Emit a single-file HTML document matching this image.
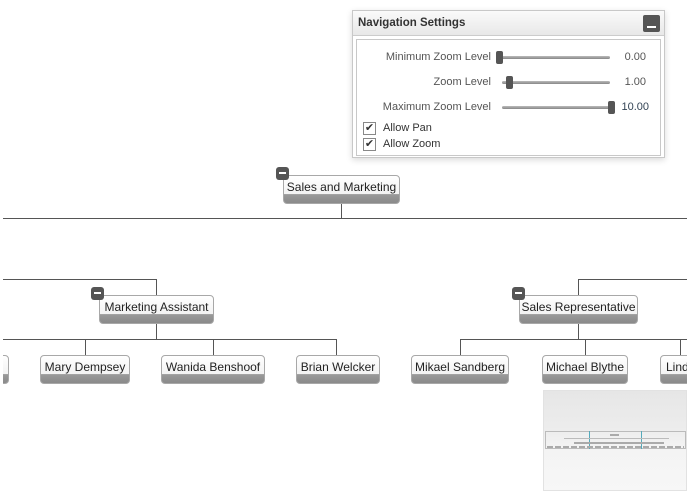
<!DOCTYPE html>
<html><head><meta charset="utf-8"><style>
html,body{margin:0;padding:0;background:#fff;}
body{width:690px;height:491px;position:relative;overflow:hidden;font-family:"Liberation Sans",sans-serif;}
#clip{position:absolute;left:3px;top:0;width:684px;height:491px;overflow:hidden;}
.l{position:absolute;background:#555;}
.n{position:absolute;height:27px;box-sizing:border-box;border:1px solid #a8a8a8;border-radius:4px;
background:linear-gradient(#fff 0%,#f3f3f3 66%,#9a9a9a 68%,#8a8a8a 100%);
font-size:12px;color:#222;text-align:center;line-height:22px;white-space:nowrap;overflow:hidden;}
.m{position:absolute;width:13px;height:13px;border-radius:3px;background:#555;box-sizing:border-box;}
.m:after{content:"";position:absolute;left:3px;top:5px;width:7px;height:2px;background:#fff;}
.p{position:absolute;font-size:11px;color:#555;}
.tr{position:absolute;height:3px;background:linear-gradient(#bbb,#888);border-radius:2px;}
.th{position:absolute;width:7px;height:13px;background:#555;border-radius:2px;}
.cb{position:absolute;width:11px;height:11px;border:1px solid #888;background:#fff;font-size:11px;line-height:11px;text-align:center;color:#333;}
</style></head><body>
<div id="clip">
<div class="l" style="left:338px;top:203px;width:1px;height:15px"></div>
<div class="l" style="left:0;top:218px;width:684px;height:1px"></div>
<div class="l" style="left:0;top:279px;width:153px;height:1px"></div>
<div class="l" style="left:153px;top:279px;width:1px;height:16px"></div>
<div class="l" style="left:153px;top:323px;width:1px;height:16px"></div>
<div class="l" style="left:0;top:339px;width:333px;height:1px"></div>
<div class="l" style="left:82px;top:339px;width:1px;height:16px"></div>
<div class="l" style="left:210px;top:339px;width:1px;height:16px"></div>
<div class="l" style="left:333px;top:339px;width:1px;height:16px"></div>
<div class="l" style="left:575px;top:279px;width:120px;height:1px"></div>
<div class="l" style="left:575px;top:279px;width:1px;height:16px"></div>
<div class="l" style="left:575px;top:323px;width:1px;height:16px"></div>
<div class="l" style="left:457px;top:339px;width:240px;height:1px"></div>
<div class="l" style="left:457px;top:339px;width:1px;height:16px"></div>
<div class="l" style="left:582px;top:339px;width:1px;height:16px"></div>
<div class="l" style="left:677px;top:339px;width:1px;height:16px"></div>

<div class="n" style="left:280px;top:175px;width:117px;height:29px">Sales and Marketing</div>
<div class="m" style="left:273px;top:167px"></div>
<div class="n" style="left:96px;top:295px;width:115px;height:29px">Marketing Assistant</div>
<div class="m" style="left:88px;top:287px"></div>
<div class="n" style="left:516px;top:295px;width:119px;height:29px">Sales Representative</div>
<div class="m" style="left:509px;top:287px"></div>

<div class="n" style="left:-40px;top:355px;width:46px;height:29px"></div>
<div class="n" style="left:37px;top:355px;width:90px;height:29px">Mary Dempsey</div>
<div class="n" style="left:158px;top:355px;width:104px;height:29px">Wanida Benshoof</div>
<div class="n" style="left:293px;top:355px;width:84px;height:29px">Brian Welcker</div>
<div class="n" style="left:408px;top:355px;width:98px;height:29px">Mikael Sandberg</div>
<div class="n" style="left:539px;top:355px;width:86px;height:29px">Michael Blythe</div>
<div class="n" style="left:657px;top:355px;width:80px;height:29px;text-align:left;padding-left:5px">Linda Mitchell</div>
</div>

<div style="position:absolute;left:543px;top:390px;width:144px;height:101px;background:linear-gradient(#e6e6e6,#ededed 40%,#f4f4f4 60%,#f7f7f7);border:1px solid #e2e2e2;box-sizing:border-box">
<div style="position:absolute;left:1px;top:40px;width:141px;height:18px;border:1px solid #bbb;box-sizing:border-box"></div>
<div style="position:absolute;left:45px;top:40px;width:1px;height:18px;background:#5ab"></div>
<div style="position:absolute;left:97px;top:40px;width:1px;height:18px;background:#5ab"></div>
<div style="position:absolute;left:66px;top:43px;width:9px;height:2px;background:#aaa"></div>
<div style="position:absolute;left:20px;top:47px;width:105px;height:1px;background:#bbb"></div>
<div style="position:absolute;left:30px;top:51px;width:90px;height:2px;background:#aaa"></div>
<div style="position:absolute;left:3px;top:55px;width:137px;height:2px;background:repeating-linear-gradient(90deg,#aaa 0 6px,transparent 6px 8px)"></div>
</div>

<div style="position:absolute;left:352px;top:10px;width:313px;height:148px;border:1px solid #c8c8c8;box-sizing:border-box;background:#fff;box-shadow:0 2px 6px rgba(0,0,0,0.15)">
<div style="position:absolute;left:0;top:0;width:311px;height:24px;background:linear-gradient(#fafafa,#e8e8e8);border-bottom:1px solid #ccc"></div>
<div style="position:absolute;left:5px;top:6px;font-size:11.5px;font-weight:bold;color:#333">Navigation Settings</div>
<div style="position:absolute;left:290px;top:4px;width:17px;height:17px;background:#555;border-radius:2px"><div style="position:absolute;left:4px;top:11px;width:9px;height:2px;background:#fff"></div></div>
<div style="position:absolute;left:3px;top:28px;width:305px;height:117px;border:1px solid #c8c8c8;box-sizing:border-box"></div>
</div>
<div class="p" style="left:352px;top:51px;width:139px;text-align:right">Minimum Zoom Level</div>
<div class="p" style="left:352px;top:76px;width:139px;text-align:right">Zoom Level</div>
<div class="p" style="left:352px;top:101px;width:139px;text-align:right">Maximum Zoom Level</div>
<div class="tr" style="left:497px;top:56px;width:113px"></div>
<div class="tr" style="left:502px;top:81px;width:108px"></div>
<div class="tr" style="left:502px;top:106px;width:110px"></div>
<div class="th" style="left:496px;top:51px"></div>
<div class="th" style="left:506px;top:76px"></div>
<div class="th" style="left:608px;top:101px"></div>
<div class="p" style="left:600px;top:51px;width:46px;text-align:right">0.00</div>
<div class="p" style="left:600px;top:76px;width:46px;text-align:right">1.00</div>
<div class="p" style="left:600px;top:101px;width:49px;text-align:right;color:#345">10.00</div>
<div class="cb" style="left:363px;top:122px">✔</div>
<div class="cb" style="left:363px;top:138px">✔</div>
<div class="p" style="left:383px;top:122px;color:#333">Allow Pan</div>
<div class="p" style="left:383px;top:138px;color:#333">Allow Zoom</div>
</body></html>
